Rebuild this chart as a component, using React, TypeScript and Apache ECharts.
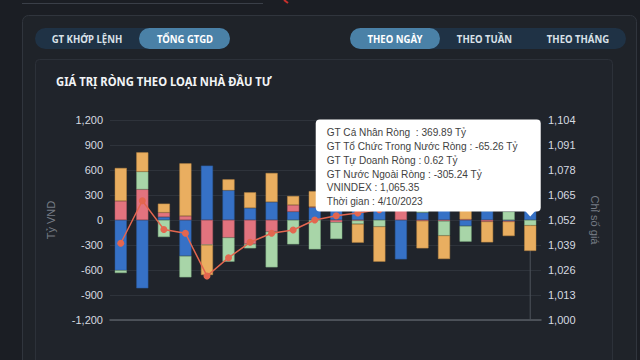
import React, { useEffect, useRef } from "react";
import * as echarts from "echarts";

// ---- data ----
const dates = [
  "3/14/2023", "3/15/2023", "3/16/2023", "3/17/2023", "3/20/2023",
  "3/21/2023", "3/22/2023", "3/23/2023", "3/24/2023", "3/27/2023",
  "3/28/2023", "3/29/2023", "3/30/2023", "3/31/2023", "4/3/2023",
  "4/4/2023", "4/5/2023", "4/6/2023", "4/7/2023", "4/10/2023",
];
// GT Cá Nhân Ròng (blue)
const caNhan = [-604, -820, 36, -432, 652, 356, 144, 216, 100, 152, 140, 120, 200, -472, 90, 130, -72, 110, -10, 369.89];
// GT Tự Doanh Ròng (pink)
const tuDoanh = [228, 368, 54, 48, -300, -212, -288, -140, 80, 6, -28, -8, 4, 150, -10, -12, 8, -20, -10, 0.62];
// GT Tổ Chức Trong Nước Ròng (green)
const toChuc = [-32, 212, -204, -256, 0, -288, -52, -428, -292, -352, -200, -40, -80, 40, 60, -176, -188, 50, 100, -65.26];
// GT Nước Ngoài Ròng (orange)
const nuocNgoai = [396, 232, 106, 632, -360, 132, 188, 348, 108, 188, 60, -224, -420, 60, -330, -280, 130, -248, -172, -305.24];
// VNINDEX
const vnIndex = [1039.9, 1062.0, 1047.1, 1045.1, 1022.9, 1032.4, 1040.4, 1045.1, 1046.8, 1052.0, 1054.2, 1055.6, 1057.4, 1059.8, 1058.9, 1061.2, 1063.5, 1062.1, 1064.0, 1065.35];

const seriesNames = ["GT Cá Nhân Ròng", "GT Tự Doanh Ròng", "GT Tổ Chức Trong Nước Ròng", "GT Nước Ngoài Ròng"];
const leftMin = -1200, leftMax = 1200, leftInterval = 300;
const rightMin = 1000, rightMax = 1104, rightInterval = 13;

const title = "GIÁ TRỊ RÒNG THEO LOẠI NHÀ ĐẦU TƯ";
const leftButtons = ["GT KHỚP LỆNH", "TỔNG GTGD"];
const rightButtons = ["THEO NGÀY", "THEO TUẦN", "THEO THÁNG"];
const hoverIndex = 19;

const COLORS = {
  blue: "#3671c6",
  pink: "#e2737e",
  green: "#a8d5a8",
  orange: "#e9ae60",
  line: "#e3664f",
};

const fmt2 = (v: number) => v.toFixed(2);
const fmtIdx = (v: number) =>
  v.toLocaleString("en-US", { minimumFractionDigits: 2, maximumFractionDigits: 2 });

export default function App() {
  const ref = useRef<HTMLDivElement>(null);

  useEffect(() => {
    if (!ref.current) return;
    const chart = echarts.init(ref.current, null, { renderer: "svg" });
    const axisFont = "Liberation Sans";

    const barSeries = [
      { name: seriesNames[0], data: caNhan, color: COLORS.blue, border: "#2b5a9c" },
      { name: seriesNames[1], data: tuDoanh, color: COLORS.pink, border: "#b95c66" },
      { name: seriesNames[2], data: toChuc, color: COLORS.green, border: "#7fae80" },
      { name: seriesNames[3], data: nuocNgoai, color: COLORS.orange, border: "#bf8a44" },
    ].map((s) => ({
      type: "bar",
      name: s.name,
      stack: "net",
      data: s.data,
      barWidth: 12,
      itemStyle: { color: s.color, borderColor: s.border, borderWidth: 0.5 },
      emphasis: { disabled: true },
    }));

    const staticGraphics: any[] = [
      { type: "line", z: -10, shape: { x1: 22, y1: 3.5, x2: 263, y2: 3.5 }, style: { stroke: "#3a3f48", lineWidth: 1 } },
      { type: "line", z: -10, shape: { x1: 284, y1: 0, x2: 288, y2: 3 }, style: { stroke: "#c8302c", lineWidth: 2 } },
      { type: "rect", z: -10, shape: { x: 22.5, y: 15.5, width: 614, height: 380, r: 6 }, style: { fill: "#1f2329", stroke: "#30353d", lineWidth: 1 } },
      { type: "rect", z: -9, shape: { x: 35.5, y: 59.5, width: 577, height: 340, r: 4 }, style: { fill: "#20242b", stroke: "#2c3139", lineWidth: 1 } },
      { type: "rect", z: -8, shape: { x: 35, y: 28, width: 195, height: 21, r: 10.5 }, style: { fill: "#1f3245" } },
      { type: "rect", z: -7, shape: { x: 139, y: 28, width: 91, height: 21, r: 10.5 }, style: { fill: "#4a81a7" } },
      { type: "rect", z: -8, shape: { x: 350, y: 28, width: 276, height: 21, r: 10.5 }, style: { fill: "#1f3245" } },
      { type: "rect", z: -7, shape: { x: 350, y: 28, width: 90, height: 21, r: 10.5 }, style: { fill: "#4a81a7" } },
    ];
    const btnFont = 'bold 11px "Noto Sans"';
    const btnCenters = [
      { text: leftButtons[0], x: 87, color: "#d9e1e8" },
      { text: leftButtons[1], x: 185, color: "#ffffff" },
      { text: rightButtons[0], x: 395, color: "#ffffff" },
      { text: rightButtons[1], x: 484.5, color: "#d9e1e8" },
      { text: rightButtons[2], x: 578, color: "#d9e1e8" },
    ];
    btnCenters.forEach((b) => {
      staticGraphics.push({
        type: "text",
        z: -6,
        x: b.x,
        y: 38.8,
        scaleX: 0.87,
        style: {
          text: b.text,
          fill: b.color,
          font: btnFont,
          align: "center",
          verticalAlign: "middle",
          textAlign: "center",
          textVerticalAlign: "middle",
        },
      });
    });
    staticGraphics.push({
      type: "text",
      z: -6,
      x: 56,
      y: 80.5,
      scaleX: 0.9,
      style: {
        text: title,
        fill: "#f2f4f6",
        font: 'bold 12.5px "Noto Sans"',
        align: "left",
        verticalAlign: "middle",
        textAlign: "left",
        textVerticalAlign: "middle",
      },
    });

    const option: any = {
      animation: false,
      backgroundColor: "#1b1e24",
      grid: { left: 110, right: 99, top: 120, bottom: 40, containLabel: false },
      xAxis: {
        type: "category",
        data: dates,
        axisLabel: { show: false },
        axisTick: { show: false },
        axisLine: { show: true, onZero: false, lineStyle: { color: "#575c64", width: 1.5 } },
        splitLine: { show: false },
      },
      yAxis: [
        {
          type: "value",
          min: leftMin,
          max: leftMax,
          interval: leftInterval,
          name: "Tỷ VND",
          nameLocation: "middle",
          nameGap: 54,
          nameTextStyle: { color: "#767c85", fontSize: 11, fontFamily: axisFont },
          axisLabel: { color: "#d6dae0", fontSize: 11, fontFamily: axisFont, margin: 7 },
          axisLine: { show: false },
          axisTick: { show: false },
          splitLine: { lineStyle: { color: "#2e333b", width: 1 } },
        },
        {
          type: "value",
          min: rightMin,
          max: rightMax,
          interval: rightInterval,
          name: "Chỉ số giá",
          nameLocation: "middle",
          nameRotate: -90,
          nameGap: 48,
          nameTextStyle: { color: "#767c85", fontSize: 11, fontFamily: axisFont },
          axisLabel: { color: "#d6dae0", fontSize: 11, fontFamily: axisFont, margin: 7 },
          axisLine: { show: false },
          axisTick: { show: false },
          splitLine: { show: false },
        },
      ],
      series: [
        ...barSeries,
        {
          type: "line",
          name: "VNINDEX",
          yAxisIndex: 1,
          data: vnIndex,
          symbol: "circle",
          symbolSize: 7,
          lineStyle: { color: COLORS.line, width: 1.5 },
          itemStyle: { color: COLORS.line },
          emphasis: { disabled: true },
          z: 5,
        },
      ],
      graphic: staticGraphics,
    };
    chart.setOption(option);

    // tooltip-like overlay anchored at hovered category
    const px = chart.convertToPixel({ xAxisIndex: 0 }, dates[hoverIndex]) as number;
    const zeroY = chart.convertToPixel({ yAxisIndex: 0 }, 0) as number;
    const topY = chart.convertToPixel({ yAxisIndex: 0 }, leftMax) as number;
    const bottomY = chart.convertToPixel({ yAxisIndex: 0 }, leftMin) as number;
    const tipY = zeroY - 3.5;
    const boxBottom = tipY - 5;
    const boxTop = topY - 0.5;
    const boxRight = px + 10.5;
    const boxWidth = 225;
    const boxLeft = boxRight - boxWidth;
    const lines = [
      `${seriesNames[0]}  : ${fmt2(caNhan[hoverIndex])} Tỷ`,
      `${seriesNames[2]} : ${fmt2(toChuc[hoverIndex])} Tỷ`,
      `${seriesNames[1]} : ${fmt2(tuDoanh[hoverIndex])} Tỷ`,
      `${seriesNames[3]} : ${fmt2(nuocNgoai[hoverIndex])} Tỷ`,
      `VNINDEX : ${fmtIdx(vnIndex[hoverIndex])}`,
      `Thời gian : ${dates[hoverIndex]}`,
    ];
    const tipGraphics: any[] = [
      { type: "line", z: 1, shape: { x1: px, y1: topY, x2: px, y2: bottomY }, style: { stroke: "#4d525a", lineWidth: 1 } },
      { type: "rect", z: 100, shape: { x: boxLeft, y: boxTop, width: boxWidth, height: boxBottom - boxTop, r: 4 }, style: { fill: "#ffffff" } },
      { type: "polygon", z: 100, shape: { points: [[px - 5, boxBottom - 0.5], [px + 5, boxBottom - 0.5], [px, tipY]] }, style: { fill: "#ffffff" } },
    ];
    lines.forEach((t, i) => {
      tipGraphics.push({
        type: "text",
        z: 101,
        x: boxLeft + 11,
        y: boxTop + 12.8 + i * 13.7,
        scaleX: 0.92,
        style: {
          text: t,
          fill: "#3f3f3f",
          font: '11px "Liberation Sans"',
          align: "left",
          verticalAlign: "middle",
          textAlign: "left",
          textVerticalAlign: "middle",
        },
      });
    });
    chart.setOption({ graphic: [...staticGraphics, ...tipGraphics] });

    return () => chart.dispose();
  }, []);

  return (
    <div
      ref={ref}
      style={{ position: "absolute", left: 0, top: 0, width: 640, height: 360 }}
    />
  );
}
